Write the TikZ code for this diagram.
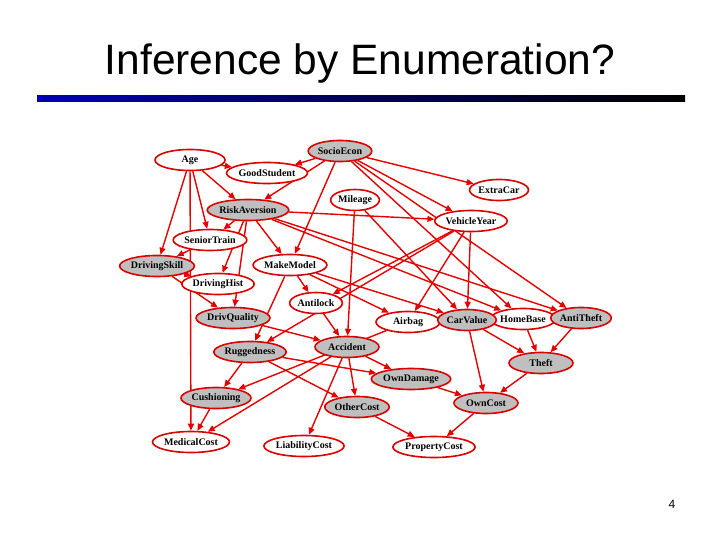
\documentclass[tikz,border=0pt]{standalone}
\usepackage{fontspec}
\setmainfont{Liberation Serif}
\setsansfont{Liberation Sans}
\usetikzlibrary{shapes.geometric,arrows.meta,backgrounds}
\begin{document}
\begin{tikzpicture}[x=1pt,y=-1pt,
  bn/.style={ellipse,draw=red!85!black,line width=1.6pt,fill=white,inner sep=0.3pt,minimum height=21pt,font=\bfseries\fontsize{10}{11}\selectfont},
  sh/.style={bn,fill=gray!50},
  e/.style={draw=red!90!black,line width=1.4pt,-{Triangle[length=7pt,width=6pt]}}]
\useasboundingbox (0,0) rectangle (720,540);
\node[font=\sffamily\fontsize{42.5}{48}\selectfont] (title) at (360,64) {Inference by Enumeration?};
\shade[left color=blue!70!black,right color=black] (37,96) rectangle (685,102);
\node[font=\sffamily\fontsize{12}{14}\selectfont] (pg) at (672,504) {4};
\node[bn,minimum width=70pt] (age) at (190,160) {Age};
\node[sh] (se) at (340,151) {SocioEcon};
\node[bn] (gs) at (267,173) {GoodStudent};
\node[bn] (ec) at (499,190) {ExtraCar};
\node[bn] (mi) at (355,200) {Mileage};
\node[sh] (ra) at (248,210) {RiskAversion};
\node[bn] (vy) at (471,221) {VehicleYear};
\node[bn] (st) at (210,240) {SeniorTrain};
\node[sh] (ds) at (157,266) {DrivingSkill};
\node[bn] (mm) at (290,265) {MakeModel};
\node[bn] (dh) at (218,284) {DrivingHist};
\node[bn] (al) at (316,303) {Antilock};
\node[sh] (dq) at (233,318) {DrivQuality};
\node[bn,minimum width=64pt] (ab) at (408,322) {Airbag};
\node[bn] (hb) at (523,319) {HomeBase};
\node[sh] (cv) at (467,320) {CarValue};
\node[sh] (at) at (581,318) {AntiTheft};
\node[sh] (ru) at (250,352) {Ruggedness};
\node[sh,minimum width=64pt] (ac) at (347,347) {Accident};
\node[sh,minimum width=64pt] (th) at (541,363) {Theft};
\node[sh] (od) at (411,379) {OwnDamage};
\node[sh] (cu) at (216,398) {Cushioning};
\node[sh] (oc) at (357,407) {OtherCost};
\node[sh,minimum width=64pt] (ow) at (486,403) {OwnCost};
\node[bn] (mc) at (191,442) {MedicalCost};
\node[bn] (lc) at (304,446) {LiabilityCost};
\node[bn] (pc) at (434,447) {PropertyCost};
\begin{scope}[on background layer]
\foreach \a/\b in {se/gs,age/gs,se/ra,age/ra,age/st,ra/st,age/ds,st/ds,ds/dh,ra/dh,se/mm,ra/mm,se/vy,ra/vy,se/ec,mm/al,vy/al,mm/ab,vy/ab,mm/cv,vy/cv,mi/cv,se/hb,ra/hb,se/at,ra/at,ds/dq,ra/dq,mm/ru,vy/ru,al/ac,mi/ac,dq/ac,hb/th,at/th,cv/th,ac/od,ru/od,ru/cu,ab/cu,ac/mc,age/mc,cu/mc,ac/lc,ac/oc,ru/oc,od/ow,cv/ow,th/ow,oc/pc,ow/pc}
  \draw[e] (\a) -- (\b);
\end{scope}
\end{tikzpicture}
\end{document}
